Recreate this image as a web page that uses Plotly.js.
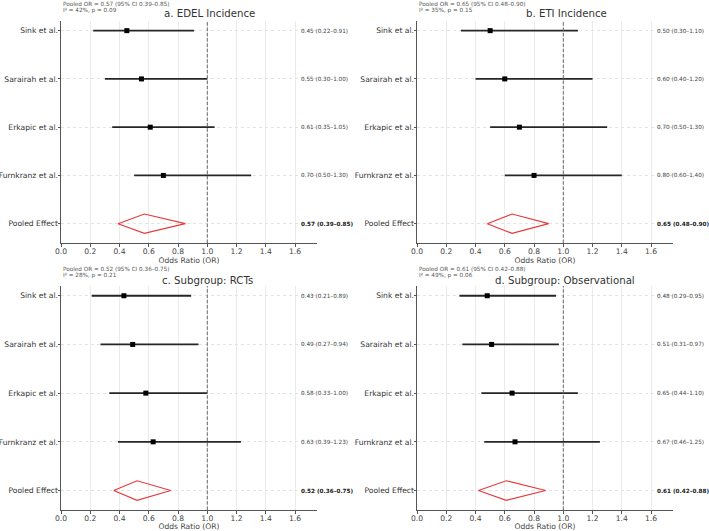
<!DOCTYPE html>
<html>
<head>
<meta charset="utf-8">
<script src="https://cdn.plot.ly/plotly-3.0.1.min.js"></script>
<style>html,body{margin:0;padding:0;background:#fff;}#chart{width:709px;height:531px;}</style>
</head>
<body>
<div id="chart"></div>
<script>
// ---- data ----
const studies = ["Sink et al.", "Sarairah et al.", "Erkapic et al.", "Furnkranz et al."];
const pooledLabel = "Pooled Effect";
const panelTitles = ["a. EDEL Incidence", "b. ETI Incidence", "c. Subgroup: RCTs", "d. Subgroup: Observational"];

const edelOR = [0.45, 0.55, 0.61, 0.70];
const edelLo = [0.22, 0.30, 0.35, 0.50];
const edelHi = [0.91, 1.00, 1.05, 1.30];
const edelPooled = [0.57, 0.39, 0.85];
const edelHet = [42, "0.09"];

const etiOR = [0.50, 0.60, 0.70, 0.80];
const etiLo = [0.30, 0.40, 0.50, 0.60];
const etiHi = [1.10, 1.20, 1.30, 1.40];
const etiPooled = [0.65, 0.48, 0.90];
const etiHet = [35, "0.15"];

const rctOR = [0.43, 0.49, 0.58, 0.63];
const rctLo = [0.21, 0.27, 0.33, 0.39];
const rctHi = [0.89, 0.94, 1.00, 1.23];
const rctPooled = [0.52, 0.36, 0.75];
const rctHet = [28, "0.21"];

const obsOR = [0.48, 0.51, 0.65, 0.67];
const obsLo = [0.29, 0.31, 0.44, 0.46];
const obsHi = [0.95, 0.97, 1.10, 1.25];
const obsPooled = [0.61, 0.42, 0.88];
const obsHet = [49, "0.06"];

const xTicks = [0.0, 0.2, 0.4, 0.6, 0.8, 1.0, 1.2, 1.4, 1.6];

// ---- build ----
const panels = [
  {or: edelOR, lo: edelLo, hi: edelHi, pooled: edelPooled, het: edelHet},
  {or: etiOR, lo: etiLo, hi: etiHi, pooled: etiPooled, het: etiHet},
  {or: rctOR, lo: rctLo, hi: rctHi, pooled: rctPooled, het: rctHet},
  {or: obsOR, lo: obsLo, hi: obsHi, pooled: obsPooled, het: obsHet}
];

const W = 709, H = 531;
const colPx = [[61, 317], [417, 673]];
const rowPx = [[21, 243], [286, 510]];
const titlePx = [[209, 13], [566, 13], [207, 280], [565, 280]];

const FONT = "DejaVu Sans, Liberation Sans, sans-serif";
const fmt = v => v.toFixed(2);

const traces = [];
const layout = {
  width: W, height: H,
  margin: {l: 0, r: 0, t: 0, b: 0},
  paper_bgcolor: "#ffffff",
  plot_bgcolor: "#ffffff",
  showlegend: false,
  font: {family: FONT, color: "#333"},
  annotations: [],
  shapes: []
};

const yLabels = studies.concat([pooledLabel]);
const yPos = yLabels.map((_, i) => yLabels.length - 1 - i); // Sink top, Pooled bottom

panels.forEach((p, k) => {
  const col = k % 2, row = Math.floor(k / 2);
  const n = k + 1;
  const xa = "x" + (n === 1 ? "" : n), ya = "y" + (n === 1 ? "" : n);
  const xKey = "xaxis" + (n === 1 ? "" : n), yKey = "yaxis" + (n === 1 ? "" : n);

  // CI lines
  const lx = [], ly = [];
  p.or.forEach((v, i) => { lx.push(p.lo[i], p.hi[i], null); ly.push(yPos[i], yPos[i], null); });
  traces.push({x: lx, y: ly, xaxis: xa, yaxis: ya, mode: "lines", type: "scatter",
    line: {color: "#262626", width: 1.8}, hoverinfo: "skip"});
  // point estimates
  traces.push({x: p.or, y: yPos.slice(0, 4), xaxis: xa, yaxis: ya, mode: "markers", type: "scatter",
    marker: {symbol: "square", size: 5, color: "#000"}});
  // pooled diamond
  const py = yPos[4];
  traces.push({x: [p.pooled[1], p.pooled[0], p.pooled[2], p.pooled[0], p.pooled[1]],
    y: [py, py + 0.2, py, py - 0.2, py], xaxis: xa, yaxis: ya, mode: "lines", type: "scatter",
    line: {color: "#e8393b", width: 1.2}, hoverinfo: "skip"});

  layout[xKey] = {
    domain: [colPx[col][0] / W, colPx[col][1] / W],
    anchor: ya, range: [0, 1.75],
    tickvals: xTicks, ticktext: xTicks.map(v => v.toFixed(1)),
    ticks: "outside", ticklen: 2.5, tickcolor: "#555",
    ticklabelstandoff: -2,
    showline: true, linecolor: "#555", linewidth: 1,
    showgrid: true, gridcolor: "#ebebeb", gridwidth: 1,
    zeroline: false,
    tickfont: {size: 7.6, color: "#444", family: FONT},
    title: {text: "Odds Ratio (OR)", font: {size: 7.6, color: "#444", family: FONT}, standoff: 1}
  };
  layout[yKey] = {
    domain: [1 - rowPx[row][1] / H, 1 - rowPx[row][0] / H],
    anchor: xa, range: [-0.4, 4.2],
    tickvals: yPos, ticktext: yLabels,
    ticks: "outside", ticklen: 2.5, tickcolor: "#555",
    ticklabelstandoff: -2,
    showline: true, linecolor: "#555", linewidth: 1,
    showgrid: true, gridcolor: "#e3e3e3", griddash: "dot", gridwidth: 1,
    zeroline: false,
    tickfont: {size: 7.6, color: "#333", family: FONT}
  };

  // null line
  layout.shapes.push({type: "line", xref: xa, yref: ya + " domain", x0: 1, x1: 1, y0: 0, y1: 1,
    line: {color: "#666", width: 1, dash: "3.5px,1.8px"}});

  // right-hand OR text
  p.or.forEach((v, i) => {
    layout.annotations.push({xref: xa, yref: ya, x: 1.63, y: yPos[i], xanchor: "left", yanchor: "middle",
      text: fmt(v) + " (" + fmt(p.lo[i]) + "–" + fmt(p.hi[i]) + ")", showarrow: false,
      font: {size: 5.7, color: "#444", family: FONT}});
  });
  layout.annotations.push({xref: xa, yref: ya, x: 1.63, y: py, xanchor: "left", yanchor: "middle",
    text: "<b>" + fmt(p.pooled[0]) + " (" + fmt(p.pooled[1]) + "–" + fmt(p.pooled[2]) + ")</b>", showarrow: false,
    font: {size: 5.7, color: "#222", family: FONT}});

  // panel title
  layout.annotations.push({xref: "paper", yref: "paper", x: titlePx[k][0] / W, y: 1 - titlePx[k][1] / H,
    xanchor: "center", yanchor: "middle", text: panelTitles[k], showarrow: false,
    font: {size: 10.2, color: "#333", family: FONT}});

  // pooled summary text
  const topY = rowPx[row][0];
  layout.annotations.push({xref: "paper", yref: "paper", x: colPx[col][0] / W, y: 1 - (topY - 17) / H,
    xanchor: "left", yanchor: "middle",
    text: "Pooled OR = " + fmt(p.pooled[0]) + " (95% CI " + fmt(p.pooled[1]) + "–" + fmt(p.pooled[2]) + ")",
    showarrow: false, font: {size: 5.7, color: "#555", family: FONT}});
  layout.annotations.push({xref: "paper", yref: "paper", x: colPx[col][0] / W, y: 1 - (topY - 10.5) / H,
    xanchor: "left", yanchor: "middle",
    text: "I² = " + p.het[0] + "%, p = " + p.het[1],
    showarrow: false, font: {size: 5.7, color: "#555", family: FONT}});
});

Plotly.newPlot("chart", traces, layout, {displayModeBar: false, staticPlot: true});
</script>
</body>
</html>
